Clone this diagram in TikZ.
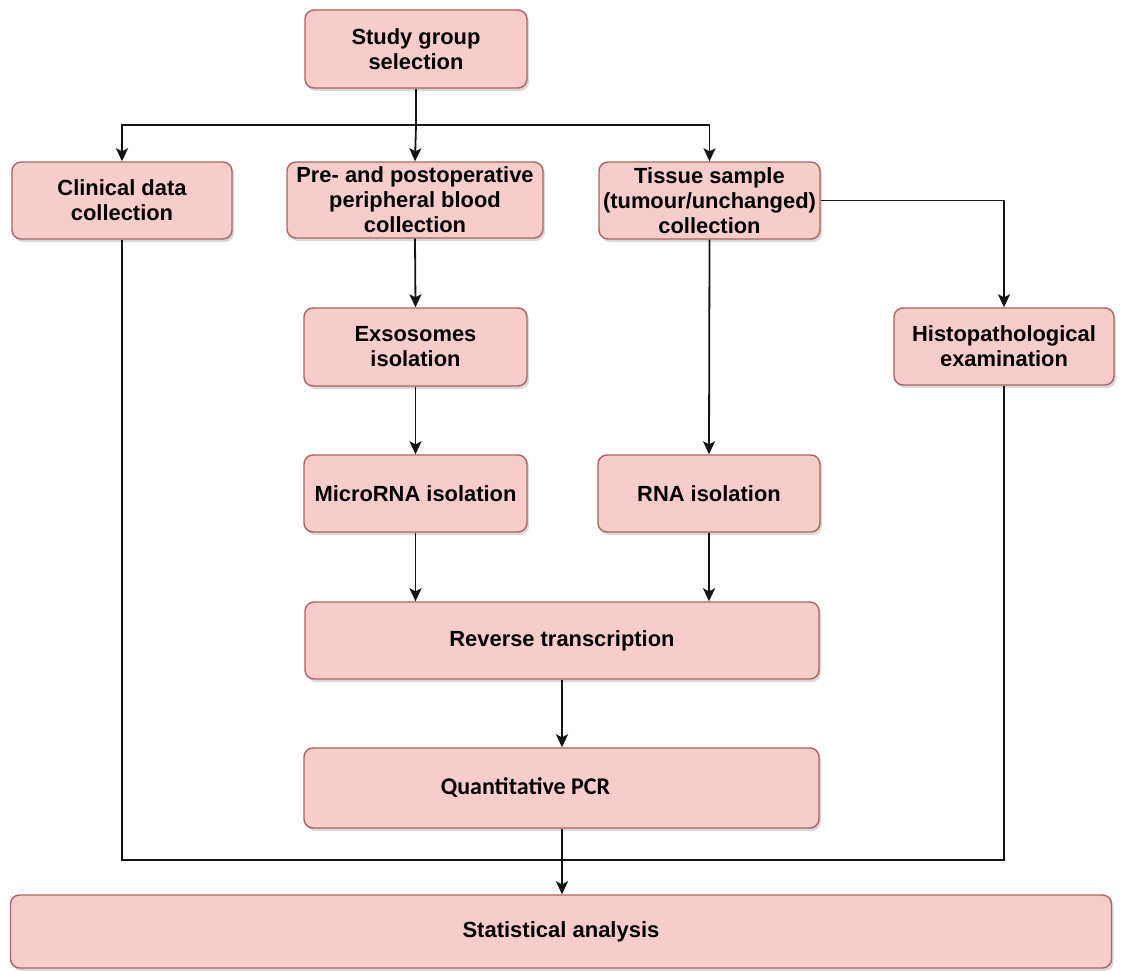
\documentclass[tikz,border=0pt]{standalone}
\usepackage{fontspec}
\setmainfont{Liberation Sans}
\newfontfamily\calfont{Carlito}
\usetikzlibrary{arrows.meta,shadows,calc}
\definecolor{boxfill}{RGB}{247,205,204}
\definecolor{boxborder}{RGB}{172,98,96}
\definecolor{linecol}{RGB}{20,20,20}
\begin{document}
\begin{tikzpicture}[x=1pt,y=-1pt,
  box/.style={draw=boxborder, fill=boxfill, rounded corners=9pt, line width=1.4pt,
    align=center, inner sep=0pt,
    font=\fontsize{21.9}{25}\selectfont\bfseries,
    drop shadow={shadow xshift=2pt, shadow yshift=-3pt, opacity=0.25, fill=black!60}},
  conn/.style={draw=linecol, line width=1.8pt},
  arr/.style={conn, -{Stealth[length=13pt,width=12pt,inset=3pt]}}]
\useasboundingbox (0,0) rectangle (1121,971);

\node[box, minimum width=222pt, minimum height=78pt] (study) at (416,49) {Study group\\selection};
\node[box, minimum width=220pt, minimum height=77pt] (clin) at (122,200.5) {Clinical data\\collection};
\node[box, minimum width=256pt, minimum height=76pt] (pre) at (415,200) {Pre- and postoperative\\peripheral blood\\collection};
\node[box, minimum width=221pt, minimum height=77pt] (tis) at (709.5,200.5) {Tissue sample\\(tumour/unchanged)\\collection};
\node[box, minimum width=220pt, minimum height=77pt] (histo) at (1004,346.5) {Histopathological\\examination};
\node[box, minimum width=223pt, minimum height=78pt] (exo) at (415.5,347) {Exsosomes\\isolation};
\node[box, minimum width=223pt, minimum height=77pt] (micro) at (415.5,493.5) {MicroRNA isolation};
\node[box, minimum width=222pt, minimum height=77pt] (rna) at (709,493.5) {RNA isolation};
\node[box, minimum width=514pt, minimum height=77pt] (rev) at (562,640.5) {Reverse transcription};
\node[box, minimum width=515pt, minimum height=80pt, font=\calfont\fontsize{24}{28}\selectfont\bfseries] (quant) at (561.5,788) {Quantitative PCR\hspace*{72pt}};
\node[box, minimum width=1101pt, minimum height=73pt, font=\fontsize{22}{26}\selectfont\bfseries] (stat) at (561,931.5) {Statistical analysis};

\coordinate (split) at (416,125);
\coordinate (merge) at (562,860);

\draw[conn] (study.south) -- (split);
\draw[arr] (split) -- (pre.north);
\draw[arr] (split) -| (clin.north);
\draw[arr] (split) -| (tis.north);
\draw[arr] (tis.east) -| (histo.north);
\draw[arr] (pre.south) -- (exo.north);
\draw[arr] (exo.south) -- (micro.north);
\draw[arr] (tis.south) -- (rna.north);
\draw[arr] (micro.south) -- (micro.south |- rev.north);
\draw[arr] (rna.south) -- (rna.south |- rev.north);
\draw[arr] (rev.south -| merge) -- (quant.north -| merge);
\draw[conn] (clin.south) |- (merge) -| (histo.south);
\draw[arr] (quant.south -| merge) -- (stat.north -| merge);
\end{tikzpicture}
\end{document}
